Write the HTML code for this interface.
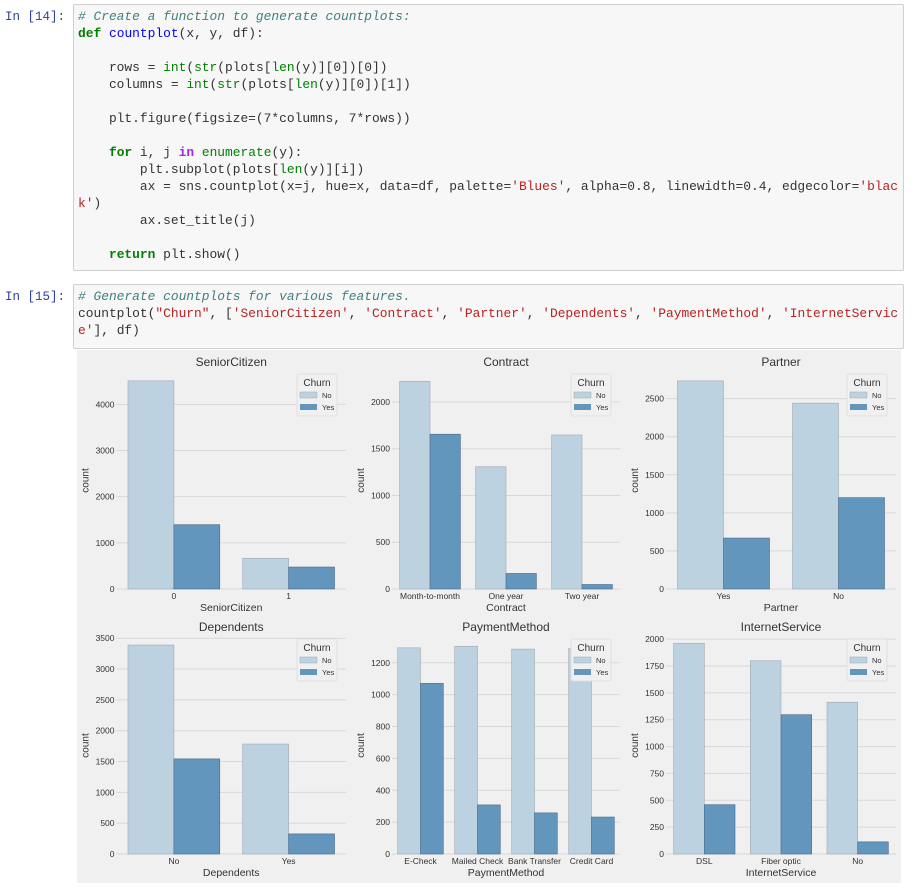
<!DOCTYPE html>
<html><head><meta charset="utf-8"><style>
body{margin:0;background:#fff;width:912px;height:889px;overflow:hidden;font-family:"Liberation Sans",sans-serif;position:relative}
.prompt{position:absolute;left:5px;color:#303f9f;font-family:"Liberation Mono",monospace;font-size:12.5px}
.cell{position:absolute;left:73px;width:831px;background:#f7f7f7;border:1px solid #cfcfcf;border-radius:2px;box-sizing:border-box;font-family:"Liberation Mono",monospace;font-size:12.9px;line-height:17px;color:#333;padding:3px 4px;white-space:pre}
.c{color:#408080;font-style:italic}.k{color:#008000;font-weight:bold}.f{color:#0000ff}.b{color:#008000}.s{color:#ba2121}.o{color:#aa22ff;font-weight:bold}
svg text{font-family:"Liberation Sans","DejaVu Sans",sans-serif;fill:#333}
</style></head><body>
<div class="prompt" style="top:10px">In [14]:</div>
<div class="cell" style="top:4px;height:267px"><span class="c"># Create a function to generate countplots:</span>
<span class="k">def</span> <span class="f">countplot</span>(x, y, df):

    rows = <span class="b">int</span>(<span class="b">str</span>(plots[<span class="b">len</span>(y)][0])[0])
    columns = <span class="b">int</span>(<span class="b">str</span>(plots[<span class="b">len</span>(y)][0])[1])

    plt.figure(figsize=(7*columns, 7*rows))

    <span class="k">for</span> i, j <span class="o">in</span> <span class="b">enumerate</span>(y):
        plt.subplot(plots[<span class="b">len</span>(y)][i])
        ax = sns.countplot(x=j, hue=x, data=df, palette=<span class="s">'Blues'</span>, alpha=0.8, linewidth=0.4, edgecolor=<span class="s">'blac</span>
<span class="s">k'</span>)
        ax.set_title(j)

    <span class="k">return</span> plt.show()</div>
<div class="prompt" style="top:290px">In [15]:</div>
<div class="cell" style="top:284px;height:65px"><span class="c"># Generate countplots for various features.</span>
countplot(<span class="s">"Churn"</span>, [<span class="s">'SeniorCitizen'</span>, <span class="s">'Contract'</span>, <span class="s">'Partner'</span>, <span class="s">'Dependents'</span>, <span class="s">'PaymentMethod'</span>, <span class="s">'InternetServic</span>
<span class="s">e'</span>], df)</div>
<svg id="fig" width="912" height="889" style="position:absolute;left:0;top:0">
<rect x="77" y="350" width="824" height="533" fill="#f0f0f0"/>
</svg>
<script>
const titles=["SeniorCitizen","Contract","Partner","Dependents","PaymentMethod","InternetService"];
const cats0=["0","1"];const no0=[4508,666];const yes0=[1393,476];const ticks0=[0,1000,2000,3000,4000];
const cats1=["Month-to-month","One year","Two year"];const no1=[2220,1307,1647];const yes1=[1655,166,48];const ticks1=[0,500,1000,1500,2000];
const cats2=["Yes","No"];const no2=[2733,2441];const yes2=[669,1200];const ticks2=[0,500,1000,1500,2000,2500];
const cats3=["No","Yes"];const no3=[3390,1784];const yes3=[1543,326];const ticks3=[0,500,1000,1500,2000,2500,3000,3500];
const cats4=["E-Check","Mailed Check","Bank Transfer","Credit Card"];const no4=[1294,1304,1286,1290];const yes4=[1071,308,258,232];const ticks4=[0,200,400,600,800,1000,1200];
const cats5=["DSL","Fiber optic","No"];const no5=[1962,1799,1413];const yes5=[459,1297,113];const ticks5=[0,250,500,750,1000,1250,1500,1750,2000];
const NS="http://www.w3.org/2000/svg";const svg=document.getElementById('fig');
function mk(t,a,p){const e=document.createElementNS(NS,t);for(const k in a)e.setAttribute(k,a[k]);(p||svg).appendChild(e);return e;}
const panels=[
 {c:cats0,n:no0,y:yes0,t:ticks0,x0:116.5,x1:346,base:589,top:372,ymax:4700},
 {c:cats1,n:no1,y:yes1,t:ticks1,x0:392,x1:620,base:589,top:372,ymax:2320},
 {c:cats2,n:no2,y:yes2,t:ticks2,x0:666,x1:896,base:589,top:372,ymax:2850},
 {c:cats3,n:no3,y:yes3,t:ticks3,x0:116.5,x1:346,base:854,top:637,ymax:3520},
 {c:cats4,n:no4,y:yes4,t:ticks4,x0:392,x1:620,base:854,top:637,ymax:1362},
 {c:cats5,n:no5,y:yes5,t:ticks5,x0:666,x1:896,base:854,top:637,ymax:2020}];
panels.forEach((p,i)=>{
 const g=mk('g',{});
 
 
 const ys=v=>p.base-(v/p.ymax)*(p.base-p.top);
 const unit=(p.x1-p.x0)/p.c.length;const xs=k=>p.x0+unit*(k+0.5);const bw=unit*0.4;
 p.t.forEach(v=>{
  const l=mk('line',{x1:p.x0,x2:p.x1,y1:ys(v),y2:ys(v),stroke:'#d8d8d8','stroke-width':1},g);
  
  const t=mk('text',{x:p.x0-2,y:ys(v)+3,'font-size':8.5,'text-anchor':'end'},g);t.textContent=v;
  
 });
 p.c.forEach((c,k)=>{
  const r1=mk('rect',{x:xs(k)-bw,y:ys(p.n[k]),width:bw,height:p.base-ys(p.n[k]),fill:'#bcd2e0',stroke:'#a0a8b0','stroke-width':0.6},g);
  
  const r2=mk('rect',{x:xs(k),y:ys(p.y[k]),width:bw,height:p.base-ys(p.y[k]),fill:'#6396bc',stroke:'#4a6a88','stroke-width':0.6},g);
  
  const t=mk('text',{x:xs(k),y:p.base+10,'font-size':8.5,'text-anchor':'middle'},g);t.textContent=c;
  
 });
 const cx=(p.x0+p.x1)/2;
 const ti=mk('text',{x:cx,y:p.top-6,'font-size':12,'text-anchor':'middle'},g);ti.textContent=titles[i];
 
 const xl=mk('text',{x:cx,y:p.base+22,'font-size':10.5,'text-anchor':'middle'},g);xl.textContent=titles[i];
 
 const yx=p.x0-28,yy=(p.base+p.top)/2;
 const yl=mk('text',{x:yx,y:yy,'font-size':10,'text-anchor':'middle',transform:`rotate(-90 ${yx} ${yy})`},g);yl.textContent='count';
 
 const lx=p.x1-49,ly=p.top+2;
 const lg=mk('g',{},g);
 mk('rect',{x:lx,y:ly,width:40,height:42,fill:'#f0f0f0',stroke:'#dcdcdc','stroke-width':0.8,rx:2},lg);
 const lt=mk('text',{x:lx+20,y:ly+12,'font-size':10,'text-anchor':'middle'},lg);lt.textContent='Churn';
 mk('rect',{x:lx+3,y:ly+18,width:17,height:6,fill:'#bcd2e0',stroke:'#a0a8b0','stroke-width':0.5},lg);
 mk('rect',{x:lx+3,y:ly+30,width:17,height:6,fill:'#6396bc'},lg);
 const a=mk('text',{x:lx+25,y:ly+24,'font-size':7.5},lg);a.textContent='No';
 const b=mk('text',{x:lx+25,y:ly+36,'font-size':7.5},lg);b.textContent='Yes';
});
</script>
</body></html>
